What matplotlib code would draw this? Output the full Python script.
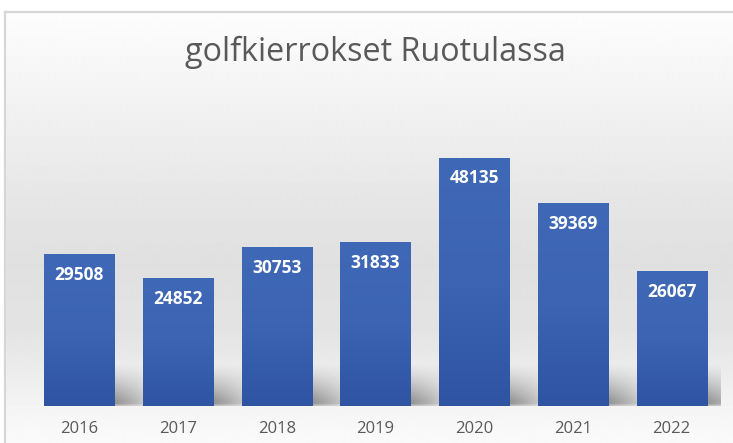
import numpy as np
import matplotlib
matplotlib.use("Agg")
import matplotlib.pyplot as plt
from matplotlib.colors import LinearSegmentedColormap
from matplotlib.lines import Line2D

years = ["2016", "2017", "2018", "2019", "2020", "2021", "2022"]
rounds = [29508, 24852, 30753, 31833, 48135, 39369, 26067]
title = "golfkierrokset Ruotulassa"

W, H = 733, 443
fig = plt.figure(figsize=(W / 100, H / 100), dpi=100)
fig.patch.set_facecolor("white")

# background gradient (figure level)
bg = fig.add_axes([0, 0, 1, 1], zorder=0)
ys = np.linspace(0, 1, 443)  # 0 = top
prof_y = [0.0, 0.03, 0.22, 0.45, 0.6, 0.75, 0.88, 0.95, 1.0]
prof_v = [255, 253, 243, 230, 224, 228, 240, 247, 250]
vals = np.interp(ys, prof_y, prof_v) / 255.0
img = np.repeat(vals[:, None], 10, axis=1)
bg.imshow(img, cmap="gray", vmin=0, vmax=1, aspect="auto", extent=[0, 1, 0, 1], origin="upper")
bg.set_xlim(0, 1); bg.set_ylim(0, 1)
bg.axis("off")
bg.fill_between([0, 1], 1 - 12 / H, 1, color="white", zorder=2)
bg.fill_between([0, 5 / W], 0, 1, color="white", zorder=2)
bg.add_line(Line2D([5 / W, 1], [1 - 12 / H, 1 - 12 / H], color="#d6d6d6", lw=1.6, zorder=3))
bg.add_line(Line2D([5 / W, 5 / W], [0, 1 - 12 / H], color="#d6d6d6", lw=1.6, zorder=3))

ax = fig.add_axes([30 / W, 37 / H, 691 / W, 258 / H], zorder=1)
ax.patch.set_alpha(0)
x = np.arange(len(years))
width = 0.71

# shadows behind bars
n = 80
sh = np.zeros((n, n, 4))
yy = np.linspace(0, 1, n)[:, None]  # 0 top -> 1 bottom
xx = np.linspace(0, 1, n)[None, :]
alpha = np.clip(yy * 1.15, 0, 1) ** 1.2 * np.clip(1 - xx, 0, 1) ** 0.7 * 0.75
alpha[-3:, :] *= 0.6
sh[..., 0] = 0.35; sh[..., 1] = 0.35; sh[..., 2] = 0.35
sh[..., 3] = alpha
for xi in x:
    ax.imshow(sh, extent=[xi + 0.2, xi + 0.8, 0, 8000], aspect="auto", zorder=1,
              interpolation="bilinear", origin="upper")

bars = ax.bar(x, rounds, width=width, color="#3a62b0", zorder=2, linewidth=0)
cmap = LinearSegmentedColormap.from_list("b", ["#2e54a2", "#3c64b3", "#3f68b6"])
grad = np.linspace(0, 1, 256)[:, None]
for b in bars:
    bx, by = b.get_x(), b.get_y()
    im = ax.imshow(grad, cmap=cmap, aspect="auto", origin="lower",
                   extent=[bx, bx + b.get_width(), by, by + b.get_height()], zorder=2.5)
    im.set_clip_path(b)

ax.set_xlim(-0.5, len(years) - 0.5)
ax.set_ylim(0, 50000)

for xi, v in zip(x, rounds):
    ax.annotate(str(v), (xi, v), xytext=(0, -15), textcoords="offset points",
                ha="center", va="center", color="white", fontsize=12.5,
                fontweight="bold", family="Open Sans", zorder=4)

ax.set_xticks(x)
ax.set_xticklabels(years, family="Open Sans", fontsize=12, color="#595959")
ax.tick_params(axis="x", length=0, pad=11)
ax.set_yticks([])
for s in ax.spines.values():
    s.set_visible(False)

fig.text(375 / W, 1 - 52 / H, title, ha="center", va="center", fontsize=23.3,
         color="#595959", family="Open Sans")

fig.savefig("out.png", dpi=100)
